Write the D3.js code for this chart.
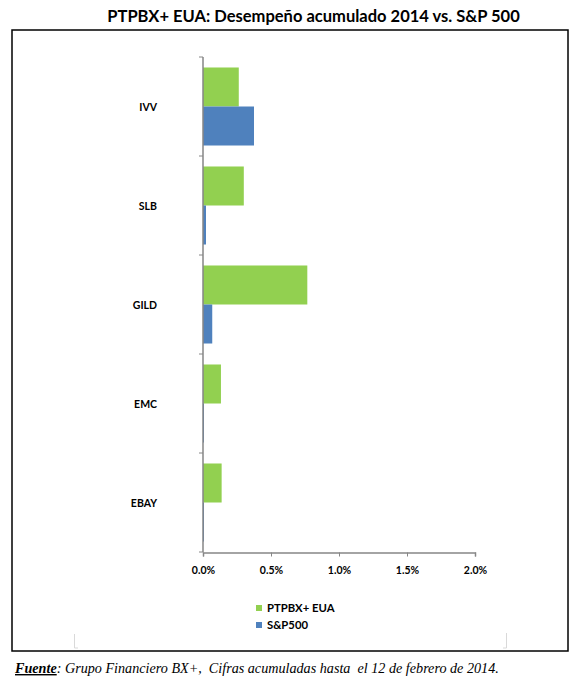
<!DOCTYPE html>
<html>
<head>
<meta charset="utf-8">
<script src="https://cdn.jsdelivr.net/npm/d3@7"></script>
<style>
  html, body { margin: 0; padding: 0; background: #fff; }
  svg { display: block; }
</style>
</head>
<body>
<svg id="chart" width="584" height="690"></svg>
<script>
const categories = ["IVV", "SLB", "GILD", "EMC", "EBAY"];
const seriesNames = ["PTPBX+ EUA", "S&P500"];
const ptpbxValues = [0.263, 0.300, 0.767, 0.132, 0.137];
const sp500Values = [0.375, 0.022, 0.068, 0.003, 0.003];
const xTicks = [0, 0.5, 1.0, 1.5, 2.0];
const seriesColors = ["#92D050", "#4F81BD"];
const titleText = "PTPBX+ EUA: Desempeño acumulado 2014 vs. S&P 500";
const footerBold = "Fuente";
const footerRest = ": Grupo Financiero BX+,  Cifras acumuladas hasta  el 12 de febrero de 2014.";

const svg = d3.select("#chart");
const sansFont = "Lato, 'Open Sans', 'DejaVu Sans', sans-serif";

// frame
svg.append("rect").attr("x", 12).attr("y", 30).attr("width", 556).attr("height", 621)
  .attr("fill", "none").attr("stroke", "#000").attr("stroke-width", 1.5);

// faint corner marks
svg.append("path").attr("d", "M74.5,634V648H78").attr("fill", "none").attr("stroke", "#d9d9d9").attr("stroke-width", 1);
svg.append("path").attr("d", "M506.5,633V648H503").attr("fill", "none").attr("stroke", "#d9d9d9").attr("stroke-width", 1);

// helper: fit text to width
function fitText(sel, target) {
  const w = sel.node().getComputedTextLength();
  const fs = parseFloat(sel.attr("font-size"));
  sel.attr("font-size", fs * target / w);
}

// title
const title = svg.append("text").attr("x", 313.5).attr("y", 22).attr("text-anchor", "middle")
  .attr("font-family", sansFont).attr("font-weight", "bold").attr("font-size", 15)
  .attr("fill", "#000").text(titleText);
fitText(title, 413);

// scales
const x = d3.scaleLinear().domain([0, 2.0]).range([203, 475]);
const y0 = d3.scaleBand().domain(categories).range([57, 552]).paddingInner(0).paddingOuter(0);
const y1 = d3.scaleBand().domain(seriesNames).range([0, y0.bandwidth()]).paddingInner(0).paddingOuter(0.269);

const data = categories.map((c, i) => ({ cat: c, values: [ptpbxValues[i], sp500Values[i]] }));

// bars
const groups = svg.append("g").selectAll("g").data(data).join("g")
  .attr("transform", d => `translate(0,${y0(d.cat)})`);
groups.selectAll("rect").data(d => d.values.map((v, j) => ({ v, s: seriesNames[j], c: seriesColors[j] })))
  .join("rect")
  .attr("x", x(0))
  .attr("y", d => y1(d.s))
  .attr("width", d => Math.max(1, x(d.v) - x(0)))
  .attr("height", y1.bandwidth())
  .attr("fill", d => d.c);

// y axis
const yAxis = svg.append("g").attr("transform", `translate(${x(0)},0)`);
yAxis.append("line").attr("x1", 0).attr("x2", 0).attr("y1", 57).attr("y2", 552)
  .attr("stroke", "#868686").attr("stroke-width", 1.5);
const yTickPos = categories.map(c => y0(c)).concat([552]);
yAxis.selectAll("line.tick").data(yTickPos).join("line").attr("class", "tick")
  .attr("x1", -4).attr("x2", 0).attr("y1", d => d).attr("y2", d => d)
  .attr("stroke", "#868686").attr("stroke-width", 1);
svg.append("g").selectAll("text").data(categories).join("text")
  .attr("x", 157).attr("y", d => y0(d) + y0.bandwidth() / 2 + 4)
  .attr("text-anchor", "end").attr("font-family", sansFont).attr("font-weight", "bold")
  .attr("font-size", 10.5).attr("fill", "#000").text(d => d);

// x axis
const xAxisG = svg.append("g").attr("transform", "translate(0,552.5)")
  .call(d3.axisBottom(x).tickValues(xTicks).tickSize(4).tickPadding(10)
    .tickFormat(d => d3.format(".1f")(d) + "%"));
xAxisG.select(".domain").attr("stroke", "#868686").attr("stroke-width", 1.5);
xAxisG.selectAll(".tick line").attr("stroke", "#868686");
xAxisG.selectAll(".tick text").attr("font-family", sansFont).attr("font-weight", "bold")
  .attr("font-size", 10.5).attr("fill", "#000");

// legend
const legend = svg.append("g").selectAll("g").data(seriesNames).join("g")
  .attr("transform", (d, i) => `translate(256,${605 + i * 17})`);
legend.append("rect").attr("width", 6).attr("height", 6).attr("fill", (d, i) => seriesColors[i]);
legend.append("text").attr("x", 11).attr("y", 7).attr("font-family", sansFont)
  .attr("font-weight", "bold").attr("font-size", 11.3).attr("fill", "#000").text(d => d);

// footer
const footer = svg.append("text").attr("x", 15).attr("y", 673)
  .attr("font-family", "'Liberation Serif', 'DejaVu Serif', serif").attr("font-style", "italic")
  .attr("font-size", 13).attr("fill", "#000");
footer.append("tspan").attr("font-weight", "bold").attr("text-decoration", "underline").text(footerBold);
footer.append("tspan").attr("xml:space", "preserve").style("white-space", "pre").text(footerRest);
fitText(footer, 484);
</script>
</body>
</html>
